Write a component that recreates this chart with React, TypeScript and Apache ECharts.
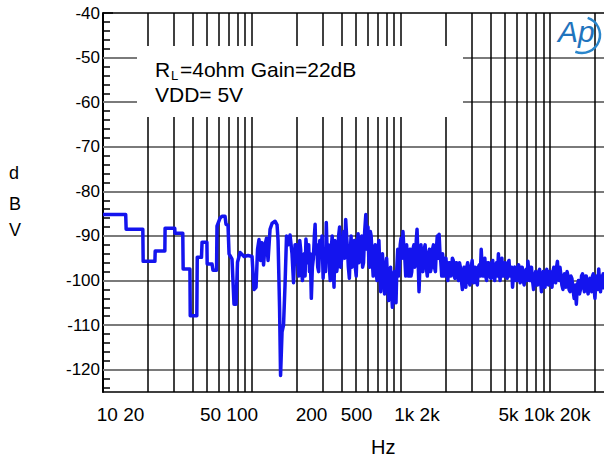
import React, { useEffect, useRef } from "react";
import * as echarts from "echarts";

// Measured curve, [Hz, dBV]
const LOW_BAND: [number, number][] = [
  [10, -85.2], [14.2, -85.2], [14.3, -88.5], [18.5, -88.5], [18.6, -95.7], [22.3, -95.7],
  [22.4, -93.4], [26.0, -93.4], [26.1, -88.3], [30.3, -88.3], [30.4, -89.4], [34.3, -89.4],
  [34.5, -97.4], [38.3, -97.4], [38.5, -107.9], [42.6, -107.9], [42.9, -94.8], [45.8, -94.8],
  [46.2, -91.4], [49.8, -91.4], [50.0, -96.3], [53.9, -96.3], [54.7, -97.7], [57.8, -97.7],
  [58.2, -87.8], [61.0, -86], [62.9, -85.6], [65.9, -85.6], [66.9, -87.4], [69.0, -87.6],
  [70.1, -94], [73.4, -95.2], [75.7, -105.3], [78.1, -105.3], [79.9, -95.9], [83.1, -93.7],
  [88.4, -94.6], [94.0, -94.4], [100, -94.6], [103.1, -102], [106.4, -101.5], [108.9, -93],
  [111.4, -90.8], [114.0, -95.5], [116.7, -91.5], [119.5, -96.5], [122.3, -92], [125.1, -90.5],
  [128.1, -95.5], [132.1, -88.5], [136.2, -87.2], [142.7, -86.7], [147.2, -87.5], [149.5, -91],
  [153.0, -106], [155.4, -121.3], [159.0, -111.5], [162.7, -110], [166.5, -101], [170.4, -90],
  [174.4, -92], [179.9, -89.8], [185.5, -94], [189.9, -100.5], [194.4, -92],
];

const MID_BAND: [number, number][] = [
  [200, -92], [203, -96], [206, -99], [209, -91], [212, -93], [215, -98], [218, -100], [221, -95],
  [224, -94], [227, -99], [230, -90.7], [233, -93], [236, -96], [240, -92], [243, -98], [246, -94],
  [250, -104], [254, -97], [258, -95], [262, -90], [265, -87.4], [268, -94], [272, -92], [276, -97],
  [280, -98], [285, -91], [290, -94], [295, -90], [300, -99.5], [303, -95], [307, -93], [311, -98],
  [315, -87], [320, -95], [325, -92], [330, -97], [335, -100], [340, -93], [345, -90], [350, -96],
  [355, -101.5], [360, -91], [365, -93], [370, -98], [375, -96.5], [381, -90], [387, -88], [393, -97],
  [400, -95], [406, -92], [412, -89], [418, -95], [425, -86.3], [431, -90], [437, -93], [443, -97],
  [450, -99.5], [456, -94], [462, -90], [468, -97], [475, -96], [481, -92], [487, -91], [493, -97],
  [500, -99], [507, -93], [515, -89.5], [522, -96], [530, -95], [537, -92], [545, -90], [552, -97],
  [560, -96], [570, -89], [580, -85.2], [590, -93], [600, -88], [607, -95], [615, -97], [622, -89],
  [630, -90], [640, -95], [650, -99], [660, -94], [670, -92], [680, -98], [690, -100], [700, -93],
  [710, -91], [720, -97], [730, -102.5], [740, -96], [750, -94], [762, -99], [775, -103], [787, -97],
  [800, -95], [812, -100], [825, -104.5], [837, -99], [850, -97], [862, -102], [875, -106], [887, -100],
  [900, -98], [912, -101], [925, -105], [937, -97], [950, -93], [962, -99], [975, -97], [987, -92],
];

const HIGH_BAND: [number, number][] = [
  [1000, -90.5], [1015, -95], [1030, -89], [1045, -93], [1060, -95], [1075, -99], [1090, -92],
  [1105, -96], [1120, -99], [1135, -94], [1150, -93], [1165, -99], [1180, -98], [1200, -93],
  [1220, -92], [1235, -97], [1250, -96], [1265, -91], [1280, -88.5], [1300, -95], [1320, -102.5],
  [1340, -96], [1360, -92], [1380, -97], [1400, -98], [1425, -93], [1450, -92], [1475, -97],
  [1500, -99], [1525, -94], [1550, -93], [1575, -98], [1600, -97], [1625, -93], [1650, -92],
  [1675, -97], [1700, -98], [1725, -93], [1750, -90], [1775, -95], [1800, -89.6], [1825, -94],
  [1850, -96], [1875, -99], [1900, -94], [1925, -97], [1950, -99], [1975, -95], [2000, -95],
  [2030, -98], [2060, -100], [2090, -96], [2120, -96], [2150, -99], [2180, -98], [2210, -95],
  [2240, -95.5], [2270, -99], [2300, -99.5], [2330, -96], [2360, -96], [2395, -99], [2430, -100],
  [2465, -96], [2500, -97], [2540, -100], [2580, -102], [2615, -98], [2650, -97], [2685, -100],
  [2720, -101.5], [2760, -97], [2800, -96], [2850, -100], [2900, -101], [2950, -97], [3000, -95.5],
  [3035, -99], [3070, -100.5], [3110, -97], [3150, -97], [3200, -100], [3250, -101], [3300, -97],
  [3350, -96.5], [3400, -99], [3450, -93], [3500, -97], [3550, -99], [3600, -96], [3650, -95],
  [3700, -99], [3750, -100], [3810, -96], [3870, -96], [3935, -99], [4000, -99.5], [4060, -96],
  [4120, -95.5], [4185, -99], [4250, -100], [4310, -97], [4370, -96], [4435, -99], [4500, -94],
  [4560, -98], [4620, -100], [4685, -96], [4750, -95], [4810, -99], [4870, -99], [4935, -96],
  [5000, -96], [5075, -99], [5150, -99.5], [5225, -96], [5300, -95.5], [5375, -99], [5450, -98],
  [5525, -97], [5600, -101.5], [5700, -98], [5800, -97], [5900, -100], [6000, -100], [6075, -97],
  [6150, -96.5], [6225, -99], [6300, -100.5], [6400, -97], [6500, -97], [6600, -100], [6700, -101],
  [6800, -98], [6900, -97.5], [7000, -100], [7100, -95.7], [7200, -98], [7300, -100], [7400, -97],
  [7500, -97], [7625, -100], [7750, -102], [7875, -99], [8000, -98], [8125, -101], [8250, -101],
  [8375, -98], [8500, -97.5], [8625, -100], [8750, -102.5], [8875, -99], [9000, -98], [9125, -101],
  [9250, -101.5], [9375, -98], [9500, -97.5], [9625, -100], [9750, -101], [9875, -98],
];

const TOP_BAND: [number, number][] = [
  [10000, -98], [10150, -100], [10300, -101.5], [10450, -98], [10600, -97], [10750, -100],
  [10900, -100.5], [11050, -97], [11200, -95.7], [11350, -99], [11500, -100], [11650, -97],
  [11800, -98.5], [12000, -101], [12200, -102], [12350, -99], [12500, -98.5], [12650, -101],
  [12800, -101.5], [13000, -98], [13200, -99], [13400, -102], [13600, -102.5], [13800, -99],
  [14000, -99.5], [14250, -102], [14500, -104], [14750, -101], [15000, -105.3], [15250, -101],
  [15500, -100], [15750, -103], [16000, -102], [16250, -99], [16500, -98.5], [16750, -101],
  [17000, -102.5], [17250, -99], [17500, -99], [17750, -102], [18000, -103], [18250, -100],
  [18500, -99.5], [18750, -102], [19000, -102.5], [19250, -99], [19500, -98.5], [19750, -102],
  [20000, -104], [20300, -100], [20600, -99], [20900, -102], [21200, -97.4], [21500, -101],
  [21800, -102.5], [22100, -99], [22400, -100.8], [22700, -98.5], [23000, -102],
];

const X_GRID_HZ = [20, 30, 40, 50, 60, 70, 80, 90, 100, 200, 300, 400, 500, 600, 700, 800, 900,
  1000, 2000, 3000, 4000, 5000, 6000, 7000, 8000, 9000, 10000, 20000];
const Y_GRID_DB = [-120, -110, -100, -90, -80, -70, -60, -50];
const Y_MAJOR = [-120, -110, -100, -90, -80, -70, -60, -50, -40];
const Y_MINOR = [-124, -122, -118, -116, -114, -112, -108, -106, -104, -102, -98, -96, -94, -92,
  -88, -86, -84, -82, -78, -76, -74, -72, -68, -66, -64, -62, -58, -56, -54, -52, -48, -46, -44, -42];
const X_LABELS = ["10 20", "50 100", "200", "500", "1k 2k", "5k 10k 20k"];
const X_LABEL_POS = [0.0349, 0.2515, 0.4162, 0.506, 0.6267, 0.8812];

const FONT = "'Liberation Sans', Arial, Helvetica, sans-serif";

export default function App() {
  const ref = useRef<HTMLDivElement>(null);
  useEffect(() => {
    if (!ref.current) return;
    const chart = echarts.init(ref.current, undefined, { renderer: "svg" });
    const gridLine = (data: any[], color: string, width: number) => ({
      type: "line",
      data: [],
      silent: true,
      z: 1,
      markLine: {
        silent: true,
        animation: false,
        symbol: ["none", "none"],
        label: { show: false },
        emphasis: { disabled: true },
        lineStyle: { color, width, type: "solid" },
        data,
      },
    });
    const option: any = {
      animation: false,
      textStyle: { fontFamily: FONT },
      grid: { left: 103, right: 0, top: 13, bottom: 65 },
      xAxis: [
        {
          type: "log",
          logBase: 10,
          min: 10,
          max: 23000,
          axisLine: { show: true, onZero: false, lineStyle: { color: "#000", width: 1.5 } },
          axisTick: { show: false },
          axisLabel: { show: false },
          splitLine: { show: false },
        },
        {
          type: "value",
          min: 0,
          max: 1,
          position: "bottom",
          axisLine: { show: false, onZero: false },
          axisTick: { show: false },
          splitLine: { show: false },
          axisLabel: {
            customValues: X_LABEL_POS,
            formatter: (v: number) => {
              const i = X_LABEL_POS.findIndex((p) => Math.abs(p - v) < 1e-6);
              return i >= 0 ? X_LABELS[i] : "";
            },
            fontSize: 19,
            color: "#000",
            margin: 13,
            fontFamily: FONT,
          },
        },
      ],
      yAxis: [
        {
          type: "value",
          min: -125,
          max: -40,
          axisLine: { show: true, onZero: false, lineStyle: { color: "#000", width: 2 } },
          axisTick: { show: true, inside: true, length: 10, customValues: Y_MAJOR, lineStyle: { color: "#000", width: 1.5 } },
          axisLabel: { customValues: Y_MAJOR, fontSize: 17, color: "#000", margin: 3, padding: [10, 0, 0, 0], fontFamily: FONT },
          splitLine: { show: false },
        },
        {
          type: "value",
          min: -125,
          max: -40,
          position: "left",
          axisLine: { show: false, onZero: false },
          axisTick: { show: true, inside: true, length: 7, customValues: Y_MINOR, lineStyle: { color: "#000", width: 1.5 } },
          axisLabel: { show: false },
          splitLine: { show: false },
        },
      ],
      series: [
        gridLine(Y_GRID_DB.map((v) => ({ yAxis: v })), "#7a7a7a", 2),
        gridLine(X_GRID_HZ.map((v) => ({ xAxis: v })), "#000", 1.5),
        gridLine([{ yAxis: -40 }], "#000", 1.5),
        {
          type: "line",
          data: [...LOW_BAND, ...MID_BAND, ...HIGH_BAND, ...TOP_BAND],
          showSymbol: false,
          symbol: "none",
          silent: true,
          z: 5,
          lineStyle: { color: "#1414ee", width: 3.5, join: "round" },
        },
      ],
      graphic: {
        elements: [
          { type: "rect", z: 100, silent: true, shape: { x: 137, y: 46, width: 326, height: 71 }, style: { fill: "#fff" } },
          { type: "text", z: 101, left: 155, top: 59, style: { text: "R", fontSize: 21, fill: "#000", fontFamily: FONT } },
          { type: "text", z: 101, left: 171, top: 69, style: { text: "L", fontSize: 13, fill: "#000", fontFamily: FONT } },
          { type: "text", z: 101, left: 180, top: 59, style: { text: "=4ohm Gain=22dB", fontSize: 21, fill: "#000", fontFamily: FONT } },
          { type: "text", z: 101, left: 155, top: 84, style: { text: "VDD= 5V", fontSize: 21, fill: "#000", fontFamily: FONT } },
          { type: "text", z: 101, left: 371, top: 437, style: { text: "Hz", fontSize: 20, fill: "#000", fontFamily: FONT } },
          { type: "text", z: 101, left: 9, top: 164, style: { text: "d", fontSize: 18, fill: "#000", fontFamily: FONT } },
          { type: "text", z: 101, left: 9, top: 195, style: { text: "B", fontSize: 18, fill: "#000", fontFamily: FONT } },
          { type: "text", z: 101, left: 9, top: 221, style: { text: "V", fontSize: 18, fill: "#000", fontFamily: FONT } },
          { type: "text", z: 101, left: 558, top: 16, style: { text: "Ap", fontSize: 30, fontStyle: "italic", fill: "#1f74bd", fontFamily: FONT } },
          {
            type: "arc", z: 101, silent: true,
            shape: { cx: 582, cy: 35, r: 18, startAngle: -1.25, endAngle: 1.95, clockwise: true },
            style: { stroke: "#2a86cc", lineWidth: 2.5, fill: "none" },
          },
        ],
      },
    };
    chart.setOption(option);
    return () => chart.dispose();
  }, []);
  return <div ref={ref} style={{ position: "absolute", left: 0, top: 0, width: 604, height: 457 }} />;
}
